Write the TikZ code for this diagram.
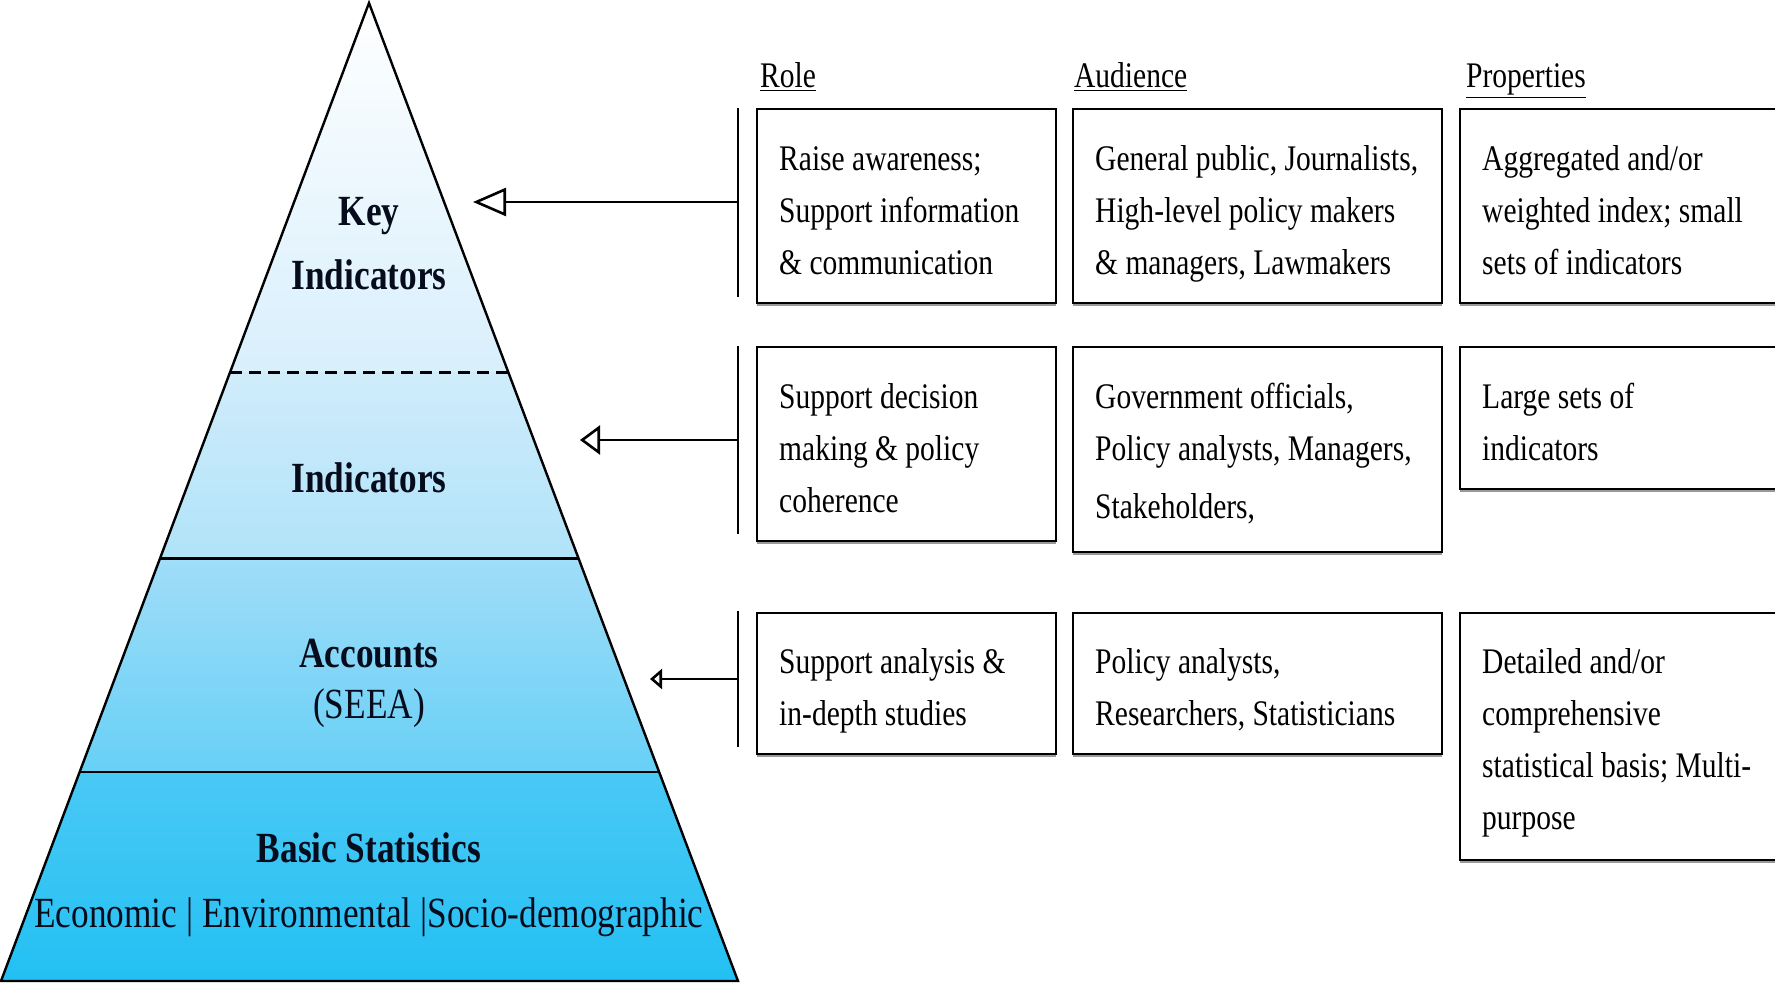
\documentclass[tikz,border=0pt]{standalone}
\usepackage{fontspec}
\setmainfont{Liberation Serif}[FakeStretch=0.82]
\usetikzlibrary{arrows.meta,calc,shadows}
\definecolor{navy}{HTML}{070C1C}
\definecolor{bandA}{RGB}{255,255,255}
\definecolor{bandB}{RGB}{216,239,252}
\definecolor{bandC}{RGB}{208,236,251}
\definecolor{bandD}{RGB}{176,227,249}
\definecolor{bandE}{RGB}{160,221,248}
\definecolor{bandF}{RGB}{104,208,246}
\definecolor{bandG}{RGB}{74,201,245}
\definecolor{bandH}{RGB}{34,192,243}
\newcommand\mycell[4]{\hspace*{22pt}\parbox[t][#2][t]{#1}{\rule{0pt}{#3}\ignorespaces #4}}
\begin{document}
\begin{tikzpicture}[x=1pt,y=-1pt,
  line width=2.2pt,
  pyrtitle/.style={font=\bfseries\fontsize{43}{50}\selectfont, text=navy, inner sep=0pt, anchor=base},
  pyrtext/.style={font=\fontsize{43}{50}\selectfont, text=navy, inner sep=0pt, anchor=base},
  header/.style={font=\fontsize{36}{42}\selectfont, inner sep=0pt, anchor=base west},
  cell/.style={draw, fill=white, line width=2.4pt, inner sep=0pt, anchor=north west,
    font=\fontsize{36}{52}\selectfont,
    drop shadow={shadow xshift=0pt, shadow yshift=-3pt, fill=black!40, opacity=1}},
  bracket/.style={line width=2.4pt},
  divider/.style={line width=2.2pt},
]
\clip (0,0) rectangle (1775,984);
\fill[white] (0,0) rectangle (1775,984);

% pyramid
\coordinate (apex) at (369,3);
\coordinate (bl) at (1,981);
\coordinate (br) at (738,981);
\begin{scope}
  \clip (apex) -- (br) -- (bl) -- cycle;
  \shade[top color=bandA, bottom color=bandB] (0,0) rectangle (740,372);
  \shade[top color=bandC, bottom color=bandD] (0,372) rectangle (740,558);
  \shade[top color=bandE, bottom color=bandF] (0,558) rectangle (740,771);
  \shade[top color=bandG, bottom color=bandH] (0,771) rectangle (740,984);
\end{scope}
\draw[line width=2.8pt, dash pattern=on 12pt off 7pt]
  ($(apex)!0.3777!(bl)$) -- ($(apex)!0.3777!(br)$);
\draw[divider] ($(apex)!0.568!(bl)$) -- ($(apex)!0.568!(br)$);
\draw[divider] ($(apex)!0.786!(bl)$) -- ($(apex)!0.786!(br)$);
\draw[line width=2.4pt, line join=miter] (apex) -- (br) -- (bl) -- cycle;

\node[pyrtitle] (key1) at (369,226) {Key};
\node[pyrtitle] (key2) at (369,290) {Indicators};
\node[pyrtitle] (ind) at (369,492) {Indicators};
\node[pyrtitle] (acc) at (369,667) {Accounts};
\node[pyrtext] (seea) at (369,718) {(SEEA)};
\node[pyrtitle] (basic) at (369,862) {Basic Statistics};
\node[pyrtext] (econ) at (369,927) {Economic | Environmental |Socio-demographic};

% headers
\node[header] (hrole) at (759,88) {\underline{Role}};
\node[header] (haud) at (1073,88) {\underline{Audience}};
\node[header] (hprop) at (1465,88) {\underline{Properties}};

% row 1
\node[cell] (r1a) at (756,108) {\mycell{277pt}{194pt}{61pt}{Raise awareness;\\Support information\\\& communication}};
\node[cell] (r1b) at (1072,108) {\mycell{347pt}{194pt}{61pt}{General public, Journalists,\\High-level policy makers\\\& managers, Lawmakers}};
\node[cell] (r1c) at (1459,108) {\mycell{378pt}{194pt}{61pt}{Aggregated and/or\\weighted index; small\\sets of indicators}};

% row 2
\node[cell] (r2a) at (756,346) {\mycell{277pt}{194pt}{61pt}{Support decision\\making \& policy\\coherence}};
\node[cell] (r2b) at (1072,346) {\mycell{347pt}{205pt}{61pt}{Government officials,\\Policy analysts, Managers,\\[6pt]Stakeholders,}};
\node[cell] (r2c) at (1459,346) {\mycell{378pt}{142pt}{61pt}{Large sets of\\indicators}};

% row 3
\node[cell] (r3a) at (756,612) {\mycell{277pt}{141pt}{60pt}{Support analysis \&\\in-depth studies}};
\node[cell] (r3b) at (1072,612) {\mycell{347pt}{141pt}{60pt}{Policy analysts,\\Researchers, Statisticians}};
\node[cell] (r3c) at (1459,612) {\mycell{378pt}{247pt}{60pt}{Detailed and/or\\comprehensive\\statistical basis; Multi-\\purpose}};

% brackets
\coordinate (b1t) at (738,108); \coordinate (b1b) at (738,297); \coordinate (b1m) at (738,202);
\coordinate (b2t) at (738,346); \coordinate (b2b) at (738,534); \coordinate (b2m) at (738,440);
\coordinate (b3t) at (738,611); \coordinate (b3b) at (738,747); \coordinate (b3m) at (738,679);
\draw[bracket] (b1t) -- (b1b);
\draw[bracket] (b2t) -- (b2b);
\draw[bracket] (b3t) -- (b3b);

% arrows
\coordinate (t1) at (473,202);
\coordinate (t2) at (580,440);
\coordinate (t3) at (650,679);
\draw[line width=2.6pt, -{Triangle[open, length=33pt, width=28pt, line width=2.6pt]}] (b1m) -- (t1);
\draw[line width=2.6pt, -{Triangle[open, length=20pt, width=29pt, line width=2.6pt]}] (b2m) -- (t2);
\draw[line width=2.6pt, -{Triangle[open, length=12pt, width=20pt, line width=2.6pt]}] (b3m) -- (t3);
\end{tikzpicture}
\end{document}
